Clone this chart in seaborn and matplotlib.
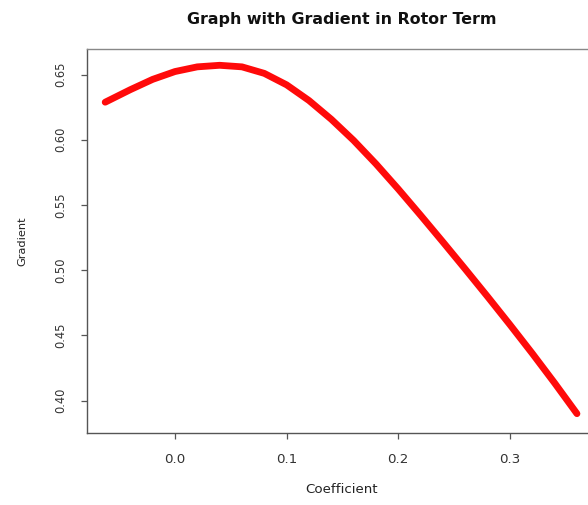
import matplotlib
matplotlib.use("Agg")
import matplotlib.pyplot as plt
import seaborn as sns
import pandas as pd

# Coefficient values and the gradient measured at each
coefficient = [-0.0625, -0.04, -0.02, 0.00, 0.02, 0.04, 0.06, 0.08, 0.10, 0.12,
               0.14, 0.16, 0.18, 0.20, 0.22, 0.24, 0.26, 0.28, 0.30, 0.32,
               0.34, 0.36]
gradient = [0.6288, 0.6384, 0.6463, 0.6523, 0.6559, 0.6571, 0.6559, 0.6509,
            0.6421, 0.6301, 0.6157, 0.5995, 0.5815, 0.5622, 0.5421, 0.5216,
            0.5008, 0.4797, 0.4582, 0.4362, 0.4135, 0.3900]

x_ticks = [0.0, 0.1, 0.2, 0.3]
x_tick_labels = ["0.0", "0.1", "0.2", "0.3"]
y_ticks = [0.40, 0.45, 0.50, 0.55, 0.60, 0.65]
y_tick_labels = ["0.40", "0.45", "0.50", "0.55", "0.60", "0.65"]

title = "Graph with Gradient in Rotor Term"
x_label = "Coefficient"
y_label = "Gradient"

sns.set_theme(style="white")
plt.rcParams["font.family"] = ["DejaVu Sans"]

df = pd.DataFrame({"Coefficient": coefficient, "Gradient": gradient})

fig = plt.figure(figsize=(5.88, 5.05), dpi=100)
ax = fig.add_axes([0.1485, 0.1426, 0.865, 0.7604])

sns.lineplot(data=df, x="Coefficient", y="Gradient", ax=ax, color="#ff0a0a",
             linewidth=4.9, solid_capstyle="round", solid_joinstyle="round",
             sort=True)

ax.set_xlim(-0.0785, 0.377)
ax.set_ylim(0.3752, 0.6696)

ax.set_xticks(x_ticks)
ax.set_xticklabels(x_tick_labels, fontsize=9.6, color="#333333")
ax.set_yticks(y_ticks)
ax.set_yticklabels(y_tick_labels, fontsize=8.3, color="#333333",
                   rotation=90, va="center")

ax.tick_params(axis="both", direction="out", length=4.3, width=0.9,
               color="#555555", pad=10, bottom=True, left=True)

for side in ["left", "bottom", "top", "right"]:
    ax.spines[side].set_visible(True)
    ax.spines[side].set_color("#555555")
    ax.spines[side].set_linewidth(1.0)
ax.spines["top"].set_color("#888888")

ax.set_xlabel(x_label, fontsize=9.6, color="#222222")
ax.xaxis.label.set_va("center")
ax.xaxis.set_label_coords(0.5, -0.148)
ax.set_ylabel(y_label, fontsize=8.2, color="#222222")
ax.yaxis.label.set_va("center")
ax.yaxis.set_label_coords(-0.1274, 0.5)

fig.text(341.5 / 588, 1 - 24 / 505, title, ha="center", va="baseline",
         fontsize=11.4, fontweight="bold", color="#111111")

fig.savefig("out.png", dpi=100, facecolor="white")
